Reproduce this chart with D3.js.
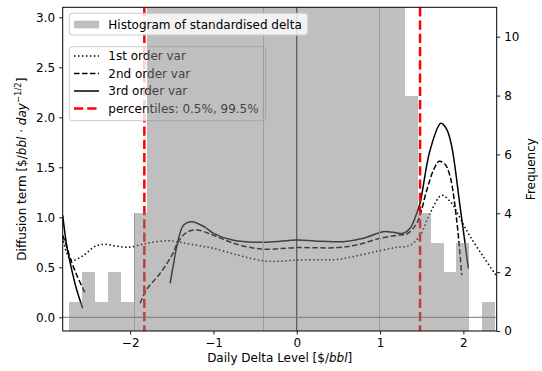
<!DOCTYPE html>
<html>
<head>
<meta charset="utf-8">
<script src="https://cdn.jsdelivr.net/npm/d3@7"></script>
<style>
  body { margin: 0; background: #fff; }
  text { font-family: "DejaVu Sans", sans-serif; font-size: 12px; }
</style>
</head>
<body>
<div id="chart"></div>
<script>
// histogram of standardised delta (frequency per bin)
const binEdges = [-2.733, -2.578, -2.423, -2.268, -2.113, -1.958, -1.803, -1.648, -1.493, -1.338,
  -1.183, -1.028, -0.873, -0.718, -0.563, -0.408, -0.253, -0.098, 0.057, 0.212, 0.367, 0.522,
  0.677, 0.832, 0.987, 1.142, 1.297, 1.452, 1.607, 1.762, 1.917, 2.072, 2.227, 2.382];
const binCounts = [1, 2, 1, 2, 1, 4, 14, 16, 19, 23, 28, 33, 39, 45, 50, 53, 52, 48, 42, 36,
  30, 25, 20, 16, 13, 12, 8, 4, 3, 2, 3, 0, 1];
const seamBins = [5, 15, 24];

// diffusion term estimates (null = gap in the line)
const var1X = [-2.81, -2.76, -2.70, -2.56, -2.42, -2.30, -2.16, -2.02, -1.80, -1.56, -1.40, -1.20,
  -1.00, -0.70, -0.40, -0.20, 0.00, 0.30, 0.50, 0.75, 1.00, 1.20, 1.36, 1.48, 1.60, 1.74, 1.85,
  1.92, 2.00, 2.08, 2.24, 2.40];
const var1Y = [0.80, 0.64, 0.57, 0.62, 0.71, 0.73, 0.71, 0.70, 0.74, 0.766, 0.75, 0.72,
  0.69, 0.62, 0.565, 0.56, 0.573, 0.575, 0.58, 0.62, 0.666, 0.70, 0.72, 0.82, 1.04, 1.22, 1.15,
  1.056, 0.93, 0.81, 0.606, 0.41];

const var2X = [-2.81, -2.76, -2.72, -2.64, -2.54, -2.20, -1.88, -1.80, -1.64, -1.50, -1.42, -1.32,
  -1.20, -1.00, -0.76, -0.50, -0.36, 0.00, 0.48, 0.75, 1.00, 1.20, 1.32, 1.44, 1.56, 1.64, 1.71,
  1.78, 1.84, 1.92, 1.98];
const var2Y = [0.82, 0.70, 0.59, 0.42, 0.24, null, 0.14, 0.28, 0.44, 0.62, 0.76, 0.85,
  0.873, 0.82, 0.74, 0.69, 0.68, 0.697, 0.697, 0.73, 0.79, 0.82, 0.833, 0.94, 1.27, 1.47, 1.56,
  1.53, 1.41, 0.97, 0.42];

const var3X = [-2.81, -2.76, -2.70, -2.64, -2.57, -2.00, -1.52, -1.47, -1.44, -1.36, -1.26, -1.10,
  -1.00, -0.76, -0.36, 0.00, 0.30, 0.56, 0.80, 1.04, 1.16, 1.28, 1.36, 1.44, 1.48, 1.60, 1.73,
  1.80, 1.86, 1.96, 2.06];
const var3Y = [1.02, 0.71, 0.47, 0.27, 0.09, null, 0.34, 0.58, 0.71, 0.92, 0.956, 0.90,
  0.84, 0.77, 0.75, 0.773, 0.76, 0.756, 0.79, 0.856, 0.85, 0.84, 0.89, 1.04, 1.14, 1.67, 1.94,
  1.88, 1.71, 1.11, 0.49];

const percentiles = [-1.83, 1.48];

const xTicks = [-2, -1, 0, 1, 2];
const yTicks = [0, 0.5, 1, 1.5, 2, 2.5, 3];
const freqTicks = [0, 2, 4, 6, 8, 10];

const curves = [
  { name: "1st order var", xs: var1X, ys: var1Y, dash: "1.5,2.475" },
  { name: "2nd order var", xs: var2X, ys: var2Y, dash: "5.55,2.4" },
  { name: "3rd order var", xs: var3X, ys: var3Y, dash: null }
];

const width = 542, height = 371;
const pL = 62.7, pR = 496.7, pT = 7.3, pB = 331;

const svg = d3.select("#chart").append("svg")
  .attr("width", width)
  .attr("height", height);

const x = d3.scaleLinear().domain([-2.81, 2.40]).range([pL, pR]);
const y = d3.scaleLinear().domain([-0.137, 3.1]).range([pB, pT]);
const y2 = d3.scaleLinear().domain([0, 11]).range([pB, pT]);

svg.append("clipPath").attr("id", "plotclip")
  .append("rect")
  .attr("x", pL).attr("y", pT)
  .attr("width", pR - pL).attr("height", pB - pT);

const plot = svg.append("g").attr("clip-path", "url(#plotclip)");

// vertical line at zero
plot.append("line")
  .attr("x1", x(0)).attr("x2", x(0))
  .attr("y1", pT).attr("y2", pB)
  .attr("stroke", "#000").attr("stroke-width", 1);

// diffusion curves
curves.forEach(function(c) {
  const pts = c.xs.map(function(v, i) { return [v, c.ys[i]]; });
  const line = d3.line()
    .defined(function(d) { return d[1] !== null; })
    .x(function(d) { return x(d[0]); })
    .y(function(d) { return y(d[1]); })
    .curve(d3.curveCatmullRom.alpha(0.5));
  plot.append("path")
    .attr("d", line(pts))
    .attr("fill", "none")
    .attr("stroke", "#000")
    .attr("stroke-width", 1.5)
    .attr("stroke-dasharray", c.dash);
});

// percentile lines
plot.selectAll(".pct")
  .data(percentiles)
  .enter()
  .append("line")
  .attr("x1", function(d) { return x(d); })
  .attr("x2", function(d) { return x(d); })
  .attr("y1", pT).attr("y2", pB)
  .attr("stroke", "red")
  .attr("stroke-width", 2.5)
  .attr("stroke-dasharray", "9.25,4");

// legend of the curves (sits under the histogram)
const leg2 = svg.append("g");
leg2.append("rect")
  .attr("x", 69.3).attr("y", 46.7)
  .attr("width", 196.4).attr("height", 74)
  .attr("rx", 3)
  .attr("fill", "#fff").attr("fill-opacity", 0.8)
  .attr("stroke", "#ccc").attr("stroke-width", 1);
const legItems = curves.map(function(c) { return { name: c.name, color: "#000", dash: c.dash, w: 1.5 }; })
  .concat([{ name: "percentiles: 0.5%, 99.5%", color: "red", dash: "9.25,4", w: 2.5 }]);
legItems.forEach(function(d, i) {
  const cy = 56 + i * 17.5;
  leg2.append("line")
    .attr("x1", 74).attr("x2", 99)
    .attr("y1", cy).attr("y2", cy)
    .attr("stroke", d.color)
    .attr("stroke-width", d.w)
    .attr("stroke-dasharray", d.dash);
  leg2.append("text")
    .attr("x", 108.3).attr("y", cy + 4.3)
    .text(d.name);
});

// histogram on the twin axis
const bars = svg.append("g").attr("clip-path", "url(#plotclip)");
bars.selectAll("rect")
  .data(binCounts)
  .enter()
  .append("rect")
  .attr("x", function(d, i) { return x(binEdges[i]); })
  .attr("width", function(d, i) { return x(binEdges[i + 1]) - x(binEdges[i]); })
  .attr("y", function(d) { return y2(d); })
  .attr("height", function(d) { return y2(0) - y2(d); })
  .attr("fill", "#808080")
  .attr("fill-opacity", 0.5)
  .attr("shape-rendering", "crispEdges");

bars.selectAll(".seam")
  .data(seamBins)
  .enter()
  .append("line")
  .attr("x1", function(k) { return Math.round(x(binEdges[k])) + 0.5; })
  .attr("x2", function(k) { return Math.round(x(binEdges[k])) + 0.5; })
  .attr("y1", function(k) { return y2(binCounts[k]); })
  .attr("y2", pB)
  .attr("stroke", "#9c9c9c")
  .attr("stroke-width", 1);

// horizontal line at zero
svg.append("line")
  .attr("x1", pL).attr("x2", pR)
  .attr("y1", y(0)).attr("y2", y(0))
  .attr("stroke", "#777").attr("stroke-width", 1);

// histogram legend
const leg1 = svg.append("g");
leg1.append("rect")
  .attr("x", 69.3).attr("y", 13.3)
  .attr("width", 238.4).attr("height", 21.7)
  .attr("rx", 3)
  .attr("fill", "#fff").attr("fill-opacity", 0.8)
  .attr("stroke", "#ccc").attr("stroke-width", 1);
leg1.append("rect")
  .attr("x", 74).attr("y", 20.7)
  .attr("width", 25).attr("height", 7.6)
  .attr("fill", "#808080").attr("fill-opacity", 0.5);
leg1.append("text")
  .attr("x", 108.3).attr("y", 28.6)
  .text("Histogram of standardised delta");

// axes
svg.append("g")
  .attr("transform", "translate(0," + pB + ")")
  .call(d3.axisBottom(x).tickValues(xTicks).tickSize(3.5).tickPadding(4)
    .tickFormat(function(d) { return d < 0 ? "\u2212" + Math.abs(d) : d; }))
  .call(g => g.select(".domain").remove());

svg.append("g")
  .attr("transform", "translate(" + pL + ",0)")
  .call(d3.axisLeft(y).tickValues(yTicks).tickSize(3.5).tickPadding(4)
    .tickFormat(d3.format(".1f")))
  .call(g => g.select(".domain").remove());

svg.append("g")
  .attr("transform", "translate(" + pR + ",0)")
  .call(d3.axisRight(y2).tickValues(freqTicks).tickSize(3.5).tickPadding(4))
  .call(g => g.select(".domain").remove());

svg.selectAll(".tick text")
  .attr("font-family", "DejaVu Sans")
  .attr("font-size", 12)
  .attr("fill", "#000");
svg.selectAll(".tick line").attr("stroke", "#000").attr("stroke-width", 0.9);

svg.append("rect")
  .attr("x", pL).attr("y", pT)
  .attr("width", pR - pL).attr("height", pB - pT)
  .attr("fill", "none")
  .attr("stroke", "#000").attr("stroke-width", 1);

// axis labels
const xl = svg.append("text")
  .attr("x", (pL + pR) / 2).attr("y", 362)
  .attr("text-anchor", "middle");
xl.append("tspan").text("Daily Delta Level [$/");
xl.append("tspan").attr("font-style", "italic").text("bbl");
xl.append("tspan").text("]");

const yl = svg.append("text")
  .attr("transform", "translate(26," + ((pT + pB) / 2) + ") rotate(-90)")
  .attr("text-anchor", "middle");
yl.append("tspan").text("Diffusion term [$/");
yl.append("tspan").attr("font-style", "italic").text("bbl");
yl.append("tspan").text(" \u00b7 ");
yl.append("tspan").attr("font-style", "italic").text("day");
yl.append("tspan").attr("font-size", 8.5).attr("dy", -5).text("\u22121/2");
yl.append("tspan").attr("dy", 5).text("]");

svg.append("text")
  .attr("transform", "translate(535," + ((pT + pB) / 2) + ") rotate(-90)")
  .attr("text-anchor", "middle")
  .text("Frequency");
</script>
</body>
</html>
